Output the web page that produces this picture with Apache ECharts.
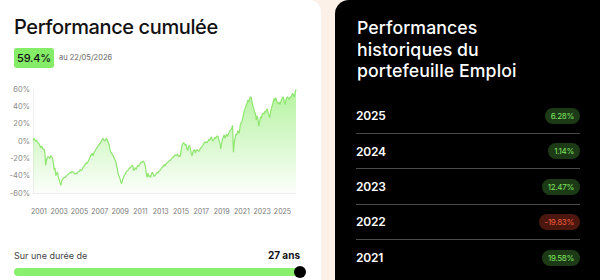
<!DOCTYPE html>
<html><head><meta charset="utf-8">
<script src="https://cdn.jsdelivr.net/npm/echarts@6/dist/echarts.min.js"></script>
<style>
html,body{margin:0;padding:0;width:600px;height:280px;overflow:hidden;background:#fbf1e9;font-family:Inter,"Noto Sans",sans-serif;}
#left{position:absolute;left:0;top:0;width:321px;height:280px;background:#fff;border-top-right-radius:12px;}
#chart{position:absolute;left:0;top:0;width:321px;height:280px;}
#title{position:absolute;left:14px;top:17px;font-size:20px;line-height:20px;font-weight:500;letter-spacing:-0.4px;color:#111;white-space:nowrap;}
#badge{position:absolute;left:14px;top:48px;width:40px;height:20px;border-radius:3px;background:#84ec67;color:#111;font-size:11px;font-weight:500;line-height:20px;text-align:center;letter-spacing:-0.2px;}
#date{position:absolute;left:59px;top:53px;font-size:7.5px;line-height:10px;color:#666;white-space:nowrap;}
#dur{position:absolute;left:14px;top:250px;font-size:9px;line-height:12px;color:#444;white-space:nowrap;}
#yrs{position:absolute;right:21px;top:249px;font-size:10px;line-height:12px;font-weight:700;color:#111;white-space:nowrap;}
#bar{position:absolute;left:14px;top:268px;width:286px;height:8px;border-radius:4px;background:#8aef6c;}
#knob{position:absolute;left:294px;top:266px;width:12px;height:12px;border-radius:6px;background:#000;}
#right{position:absolute;left:335px;top:0;width:265px;height:280px;background:#000;border-top-left-radius:14px;}
#rtitle{position:absolute;left:22px;top:17px;}
.tl{font-size:17.7px;line-height:21.5px;height:21.5px;font-weight:500;letter-spacing:0.1px;color:#fff;white-space:nowrap;}
#rows{position:absolute;left:21px;top:98.6px;width:224px;}
.row{height:35.4px;display:flex;align-items:center;justify-content:space-between;border-bottom:1px solid #4a4a4a;box-sizing:border-box;}
.row:last-child{border-bottom:none;}
.yr{color:#fff;font-size:12px;font-weight:600;letter-spacing:-0.2px;}
.pill{height:16px;line-height:16px;padding:0 6px;border-radius:8px;font-size:8px;letter-spacing:-0.3px;}
.pos{background:#1d3a17;color:#80e460;}
.neg{background:#4b170e;color:#ee5b3b;}
</style></head>
<body>
<div id="left">
  <div id="chart"></div>
  <div id="title">Performance cumulée</div>
  <div id="badge"></div>
  <div id="date"></div>
  <div id="dur">Sur une durée de</div>
  <div id="yrs"></div>
  <div id="bar"></div>
  <div id="knob"></div>
</div>
<div id="right">
  <div id="rtitle"><div class="tl">Performances</div><div class="tl">historiques du</div><div class="tl">portefeuille Emploi</div></div>
  <div id="rows"></div>
</div>
<script>
// ---- data ----
const cumulativePerf = "59.4%";
const perfDate = "au 22/05/2026";
const durationLabel = "27 ans";
const startYear = 2000, startMonth = 6;
const perf2000 = [1, 3, 2, 0, 1, -1, -2];
const perf2001 = [-3, -5, -8, -6, -7, -10, -9, -14, -28, -22, -19, -18];
const perf2002 = [-19, -20, -17, -18, -20, -25, -33, -31, -40, -37, -36, -42];
const perf2003 = [-45, -48, -51, -46, -44, -43, -42, -42, -41, -40, -39, -38];
const perf2004 = [-37, -36, -37, -35, -36, -36, -38, -38, -37, -38, -36, -35];
const perf2005 = [-35, -33, -34, -33, -31, -30, -28, -27, -25, -26, -24, -22];
const perf2006 = [-20, -17, -16, -14, -17, -14, -12, -10, -9, -7, -6, -4];
const perf2007 = [-3, -2, 0, 2, 3, 1, 0, 2, 3, 1, -2, -4];
const perf2008 = [-10, -13, -14, -16, -17, -20, -22, -24, -29, -34, -39, -41];
const perf2009 = [-44, -48, -49, -44, -42, -40, -38, -36, -35, -34, -33, -31];
const perf2010 = [-31, -30, -28, -29, -34, -33, -31, -33, -30, -28, -29, -27];
const perf2011 = [-26, -24, -25, -23, -24, -26, -30, -38, -42, -37, -41, -40];
const perf2012 = [-42, -38, -36, -38, -41, -40, -39, -37, -36, -37, -35, -34];
const perf2013 = [-33, -31, -30, -29, -27, -29, -27, -26, -25, -24, -23, -22];
const perf2014 = [-22, -20, -19, -19, -17, -16, -17, -16, -15, -18, -17, -18];
const perf2015 = [-12, -6, -3, -2, -3, -5, -4, -9, -11, -6, -5, -8];
const perf2016 = [-14, -17, -13, -11, -10, -14, -11, -10, -11, -12, -11, -8];
const perf2017 = [-8, -6, -5, -3, -1, -2, -1, -2, 0, 2, 1, 3];
const perf2018 = [5, 1, 0, 2, 4, 3, 5, 6, 5, 0, -2, -9];
const perf2019 = [-3, 2, 4, 7, 3, 6, 8, 5, 8, 10, 12, 13];
const perf2020 = [15, 18, -13, -2, 4, 8, 7, 12, 10, 9, 18, 21];
const perf2021 = [22, 26, 31, 35, 38, 41, 43, 47, 45, 49, 50, 51];
const perf2022 = [45, 40, 38, 33, 32, 24, 29, 25, 17, 22, 28, 26];
const perf2023 = [31, 32, 31, 34, 33, 36, 37, 33, 30, 27, 34, 38];
const perf2024 = [41, 45, 49, 46, 50, 47, 44, 43, 45, 42, 45, 48];
const perf2025 = [50, 51, 46, 42, 47, 50, 51, 49, 48, 51, 50, 53];
const perf2026 = [55, 53, 51, 56, 59.4];
const yTicks = [-60, -40, -20, 0, 20, 40, 60];
const annualYears = ["2025", "2024", "2023", "2022", "2021"];
const annualPerf = [6.28, 1.14, 12.47, -19.83, 19.58];

// ---- build ----
const values = [].concat(perf2000, perf2001, perf2002, perf2003, perf2004, perf2005, perf2006,
  perf2007, perf2008, perf2009, perf2010, perf2011, perf2012, perf2013, perf2014, perf2015,
  perf2016, perf2017, perf2018, perf2019, perf2020, perf2021, perf2022, perf2023, perf2024,
  perf2025, perf2026);
const months = [];
for (let i = 0; i < values.length; i++) {
  const m0 = startMonth - 1 + i;
  const y = startYear + Math.floor(m0 / 12);
  const m = (m0 % 12) + 1;
  months.push(y + "-" + (m < 10 ? "0" + m : m));
}

document.getElementById('badge').textContent = cumulativePerf;
document.getElementById('date').textContent = perfDate;
document.getElementById('yrs').textContent = durationLabel;
const rows = document.getElementById('rows');
annualYears.forEach((y, i) => {
  const v = annualPerf[i];
  const r = document.createElement('div'); r.className = 'row';
  r.innerHTML = '<span class="yr">' + y + '</span><span class="pill ' + (v < 0 ? 'neg' : 'pos') + '">' +
    v.toFixed(2) + '%</span>';
  rows.appendChild(r);
});

const chart = echarts.init(document.getElementById('chart'), null, {renderer: 'svg'});
chart.setOption({
  animation: false,
  grid: {left: 33, right: 25, top: 89, bottom: 87},
  xAxis: {
    type: 'category', data: months, boundaryGap: false,
    axisLine: {onZero: false, lineStyle: {color: '#eeeeee'}},
    axisTick: {show: false},
    splitLine: {show: false},
    axisLabel: {
      margin: 15, color: '#777', fontSize: 7, fontFamily: 'Inter',
      interval: function (idx, val) {
        const y = parseInt(val.slice(0, 4)), m = val.slice(5);
        return m === '01' && y % 2 === 1;
      },
      formatter: function (val) { return val.slice(0, 4); }
    }
  },
  yAxis: {
    type: 'value', min: yTicks[0], max: yTicks[yTicks.length - 1], interval: 20,
    axisLine: {show: true, lineStyle: {color: '#eeeeee'}},
    axisTick: {show: false},
    splitLine: {show: false},
    axisLabel: {margin: 3, color: '#888', fontSize: 7.5, fontFamily: 'Inter', formatter: '{value}%'}
  },
  series: [{
    type: 'line', data: values, showSymbol: false, smooth: false,
    lineStyle: {width: 1.2, color: '#8ee66f'},
    areaStyle: {
      origin: 'start',
      color: new echarts.graphic.LinearGradient(0, 0, 0, 1, [
        {offset: 0, color: 'rgba(138,236,104,0.9)'},
        {offset: 1, color: 'rgba(138,236,104,0.04)'}
      ])
    }
  }]
});
</script>
</body></html>
